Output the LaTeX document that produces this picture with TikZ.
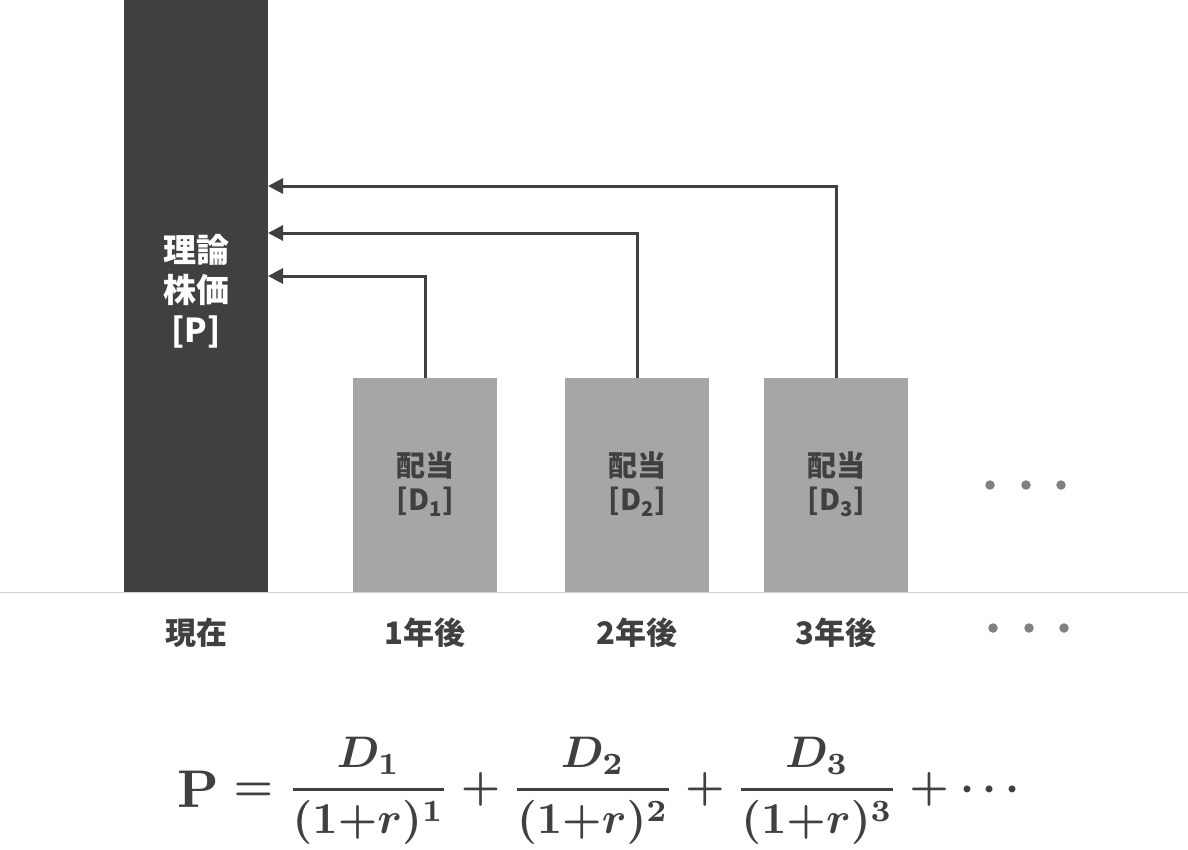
\documentclass[tikz,border=0pt]{standalone}
\usepackage{fontspec}
\usepackage{amsmath}
\usepackage{graphicx}
\usetikzlibrary{arrows.meta}
\newfontfamily\jp{Noto Sans CJK JP}
\definecolor{dark}{HTML}{404040}
\definecolor{mid}{HTML}{A6A6A6}
\definecolor{dotc}{HTML}{808080}
\definecolor{rule}{HTML}{D0D0D0}
\newcommand{\myfr}[2]{\genfrac{}{}{0.7pt}{0}{#1}{#2}}
\tikzset{
  divbox/.style={draw=none,fill=mid,minimum width=144pt,minimum height=214pt,inner sep=0pt,anchor=south},
  divtext/.style={text=dark,font=\jp\bfseries\fontsize{29}{34}\selectfont,align=center},
  yearlbl/.style={text=dark,font=\jp\bfseries\fontsize{31}{34}\selectfont},
  arr/.style={draw=dark,line width=3pt,-{Triangle[length=15pt,width=15pt]}},
  dotstyle/.style={circle,fill=dotc,inner sep=0pt,minimum size=9.5pt}
}
\begin{document}
\begin{tikzpicture}[x=1pt,y=-1pt]
\useasboundingbox (0,0) rectangle (1188,849);
% baseline
\draw[rule,line width=1pt] (0,592) -- (1188,592);
% bar
\node[fill=dark,minimum width=144pt,minimum height=592pt,inner sep=0pt,anchor=north west] (bar) at (124,0) {};
\node[text=white,font=\jp\bfseries\fontsize{33}{40}\selectfont,align=center] (bartext) at (196,291) {理論\\株価\\{}[P]};
% dividend boxes
\node[divbox] (b1) at (425,592) {};
\node[divbox] (b2) at (637,592) {};
\node[divbox] (b3) at (836,592) {};
\node[divtext] (t1) at (425,484) {配当\\{}[D\textsubscript{1}]};
\node[divtext] (t2) at (637,484) {配当\\{}[D\textsubscript{2}]};
\node[divtext] (t3) at (836,484) {配当\\{}[D\textsubscript{3}]};
% arrow targets
\coordinate (p1) at (268,276);
\coordinate (p2) at (268,233);
\coordinate (p3) at (268,186);
\draw[arr] (b1.north) |- (p1);
\draw[arr] (b2.north) |- (p2);
\draw[arr] (b3.north) |- (p3);
% dots
\node[dotstyle] (d1) at (990,485) {};
\node[dotstyle] (d2) at (1026,485) {};
\node[dotstyle] (d3) at (1061,485) {};
\node[dotstyle] (e1) at (993,628) {};
\node[dotstyle] (e2) at (1029,628) {};
\node[dotstyle] (e3) at (1064,628) {};
% year labels
\node[yearlbl] (y0) at (196,633) {現在};
\node[yearlbl] (y1) at (425,633) {1年後};
\node[yearlbl] (y2) at (637,633) {2年後};
\node[yearlbl] (y3) at (836,633) {3年後};
% formula
\node[text=dark,inner sep=0pt] (formula) at (603,791) {\resizebox{850pt}{!}{\boldmath$\vcenter{\hbox{\scalebox{1.2}{$\mathbf{P}$}}}=\myfr{D_1}{(1{+}r)^1}+\myfr{D_2}{(1{+}r)^2}+\myfr{D_3}{(1{+}r)^3}+\cdots$}};
\end{tikzpicture}
\end{document}
